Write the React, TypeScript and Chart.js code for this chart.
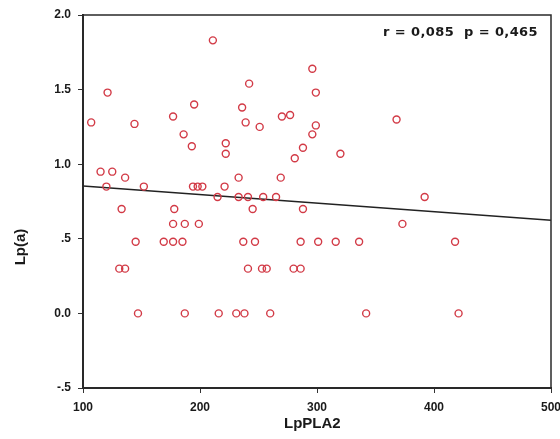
import React, { useEffect, useRef } from "react";
import { Chart, registerables } from "chart.js";
Chart.register(...registerables);

// LpPLA2 (x) and Lp(a) (y) values
const lpPLA2 = [
  211, 296, 242, 121, 299, 107, 144, 177, 195, 236,
  186, 270, 277, 239, 251, 368, 299, 296, 193, 222,
  222, 288, 320, 281, 115, 125, 136, 233, 269, 120,
  152, 194, 198, 202, 221, 215, 233, 241, 254, 265,
  392, 133, 178, 245, 288, 177, 187, 199, 373, 145,
  169, 177, 185, 237, 247, 286, 301, 316, 336, 418,
  131, 136, 241, 253, 257, 280, 286, 147, 187, 216,
  231, 238, 260, 342, 421,
];
const lpa = [
  1.83, 1.64, 1.54, 1.48, 1.48, 1.28, 1.27, 1.32, 1.40, 1.38,
  1.20, 1.32, 1.33, 1.28, 1.25, 1.30, 1.26, 1.20, 1.12, 1.14,
  1.07, 1.11, 1.07, 1.04, 0.95, 0.95, 0.91, 0.91, 0.91, 0.85,
  0.85, 0.85, 0.85, 0.85, 0.85, 0.78, 0.78, 0.78, 0.78, 0.78,
  0.78, 0.70, 0.70, 0.70, 0.70, 0.60, 0.60, 0.60, 0.60, 0.48,
  0.48, 0.48, 0.48, 0.48, 0.48, 0.48, 0.48, 0.48, 0.48, 0.48,
  0.30, 0.30, 0.30, 0.30, 0.30, 0.30, 0.30, 0, 0, 0,
  0, 0, 0, 0, 0,
];
// regression line end points
const fitX = [100, 500];
const fitY = [0.854, 0.624];

const xRange = [100, 500];
const yRange = [-0.5, 2.0];
const statsLabel = "r = 0,085  p = 0,465";
const xTitle = "LpPLA2";
const yTitle = "Lp(a)";

const FONT = "'Liberation Sans', Arial, sans-serif";

export default function App() {
  const ref = useRef<HTMLCanvasElement | null>(null);
  useEffect(() => {
    document.body.style.margin = "0";
    const canvas = ref.current;
    if (!canvas) return;
    const points = lpPLA2.map((x, i) => ({ x, y: lpa[i] }));
    const line = fitX.map((x, i) => ({ x, y: fitY[i] }));
    const deco = {
      id: "deco",
      afterDraw(chart: any) {
        const { ctx, chartArea: a } = chart;
        ctx.save();
        ctx.strokeStyle = "#2a2a2a";
        ctx.lineWidth = 1.5;
        ctx.strokeRect(a.left, a.top, a.right - a.left, a.bottom - a.top);
        ctx.fillStyle = "#1a1a1a";
        ctx.font = `bold 13px 'DejaVu Sans', sans-serif`;
        (ctx as any).letterSpacing = "0.4px";
        ctx.textAlign = "right";
        ctx.textBaseline = "middle";
        ctx.fillText(statsLabel, 538, 33);
        (ctx as any).letterSpacing = "0px";
        ctx.font = `bold 15px ${FONT}`;
        ctx.textAlign = "left";
        ctx.textBaseline = "alphabetic";
        ctx.fillText(xTitle, 284, 428);
        ctx.translate(25, 247);
        ctx.rotate(-Math.PI / 2);
        ctx.textAlign = "center";
        ctx.fillText(yTitle, 0, 0);
        ctx.restore();
      },
    };
    const chart = new Chart(canvas, {
      type: "scatter",
      data: {
        datasets: [
          {
            data: points,
            pointStyle: "circle",
            pointRadius: 3.5,
            pointBorderWidth: 1.4,
            borderColor: "#d23a46",
            backgroundColor: "rgba(255,255,255,0)",
          },
          {
            type: "line",
            data: line,
            borderColor: "#222",
            borderWidth: 1.5,
            pointRadius: 0,
            fill: false,
          } as any,
        ],
      },
      options: {
        animation: false,
        responsive: false,
        layout: { padding: { left: 0, top: 15, right: 9, bottom: 0 } },
        plugins: { legend: { display: false }, tooltip: { enabled: false } },
        scales: {
          x: {
            type: "linear",
            min: xRange[0],
            max: xRange[1],
            afterFit: (s: any) => {
              s.height = 51;
              s.paddingRight = 0;
              s.paddingLeft = 0;
            },
            grid: { display: true, drawOnChartArea: false, drawTicks: true, tickLength: 5, color: "#333" },
            border: { display: true, color: "#2a2a2a", width: 2 },
            ticks: {
              stepSize: 100,
              padding: 7,
              color: "#1a1a1a",
              font: { family: FONT, size: 12, weight: "bold" },
            },
          },
          y: {
            type: "linear",
            min: yRange[0],
            max: yRange[1],
            afterFit: (s: any) => {
              s.width = 83;
              s.paddingTop = 0;
              s.paddingBottom = 0;
            },
            grid: { display: true, drawOnChartArea: false, drawTicks: true, tickLength: 5, color: "#333" },
            border: { display: true, color: "#2a2a2a", width: 2 },
            ticks: {
              stepSize: 0.5,
              padding: 7,
              color: "#1a1a1a",
              font: { family: FONT, size: 12, weight: "bold" },
              callback: (v: any) => {
                const n = Number(v);
                if (Math.abs(n) === 0.5) return (n < 0 ? "-" : "") + ".5";
                return n.toFixed(1);
              },
            },
          },
        },
      },
      plugins: [deco],
    });
    return () => chart.destroy();
  }, []);
  return (
    <div style={{ position: "fixed", left: 0, top: 0, width: 560, height: 439, background: "#fff" }}>
      <canvas ref={ref} width={560} height={439} style={{ width: 560, height: 439 }} />
    </div>
  );
}
